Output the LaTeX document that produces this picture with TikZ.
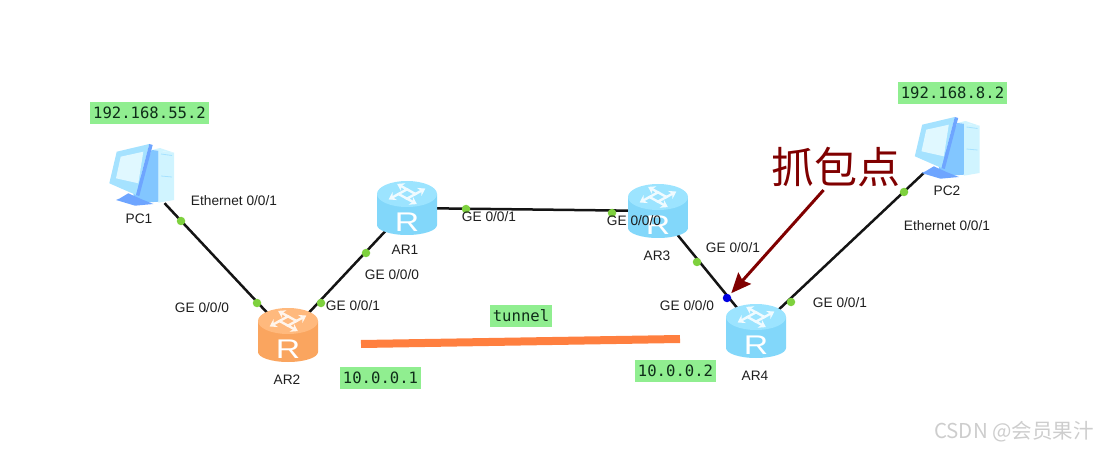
\documentclass[tikz,border=0pt]{standalone}
\usepackage[svgnames]{xcolor}
\usepackage{fontspec}
\setmainfont{Liberation Sans}
\newfontfamily\cjkfont{Noto Sans CJK SC}
\newfontfamily\addrfont{DejaVu Sans Mono}
\usetikzlibrary{arrows,arrows.meta}
\definecolor{portgreen}{RGB}{126,209,62}
\definecolor{sniffblue}{RGB}{0,0,225}
\definecolor{linkblack}{RGB}{20,20,20}
\definecolor{tunnelorange}{RGB}{255,127,63}
\definecolor{snifferred}{RGB}{128,0,0}
\definecolor{textgrey}{RGB}{30,30,30}
\definecolor{addrtext}{RGB}{15,45,25}
\definecolor{markgrey}{RGB}{205,205,205}
\definecolor{blueedge}{RGB}{130,215,250}
\definecolor{bluemid}{RGB}{168,236,255}
\definecolor{bluetop}{RGB}{156,228,255}
\definecolor{orangeedge}{RGB}{250,165,95}
\definecolor{orangemid}{RGB}{255,195,145}
\definecolor{orangetop}{RGB}{255,185,125}
\definecolor{pcframe}{RGB}{165,226,255}
\definecolor{pcside}{RGB}{130,198,255}
\definecolor{pcfront}{RGB}{208,244,255}
\definecolor{pcscreen}{RGB}{224,248,255}
\definecolor{pcbase}{RGB}{110,165,255}
\tikzset{>={Stealth[scale=1.25]}}
\tikzset{
	routerbox/.style={circle, minimum size=60, inner sep=0},
	portdot/.style={circle, fill=portgreen, minimum size=8.5, inner sep=0},
	sniffdot/.style={portdot, fill=sniffblue},
	pcbox/.style={minimum width=60, inner sep=0},
	port/.style={font=\fontsize{13.7}{16}\selectfont, text=textgrey, inner sep=0},
	addr/.style={fill=LightGreen, font=\addrfont\fontsize{15.6}{18}\selectfont, text=addrtext,
		inner xsep=3, inner ysep=0, minimum height=22},
	link/.style={draw=linkblack, line width=2.5},
	routericon/.pic={
		\shade[left color=#1edge, middle color=#1mid, right color=#1edge]
			(-30,-14) -- (-30,17) arc[start angle=180, end angle=0, x radius=30, y radius=10] -- (30,-14) -- cycle;
		\fill[#1top] (0,-14) ellipse[x radius=30, y radius=13];
		\begin{scope}[yshift=14, yscale=0.55]
			\foreach \a in {45,135,225,315} {
				\begin{scope}[rotate=\a]
					\draw[white!85!#1top, line width=2.4, -{Stealth[length=7,width=9]}] (6,-7) -- (6,6) -- (20,6);
				\end{scope}
			}
		\end{scope}
		\node[white, xscale=1.25, inner sep=0, font=\fontsize{27}{27}\selectfont] at (0,14) {R};
	},
	pcicon/.pic={
		\fill[pcfront] (18.3,-25.3) -- (34,-23.3) -- (34,24) -- (18.3,26.7) -- cycle;
		\fill[pcfront] (11.7,-26) -- (20,-28) -- (34,-23.3) -- (18.3,-25.3) -- cycle;
		\fill[pcside] (11.7,-26) -- (18.3,-25.3) -- (18.3,25.7) -- (-3.3,27.3) -- (-6.7,19) -- cycle;
		\draw[pcframe, line width=0.8] (21,-22) -- (32,-20.5) (21,0) -- (32,1);
		\fill[pcbase] (-20,22.3) -- (-11.7,17.3) -- (1.7,23.3) -- (13.3,28) -- (-5,29.7) -- (-24,24) -- cycle;
		\fill[pcframe] (-30.7,7.3) -- (-23.3,-24.3) -- (9.3,-32) -- (-4,19) -- cycle;
		\fill[pcbase] (9.3,-32) -- (12.7,-31) -- (-0.7,20) -- (-4,19) -- cycle;
		\fill[pcscreen] (-24,2.3) -- (-19.3,-19.3) -- (3.3,-24.3) -- (-1.7,7.3) -- cycle;
	}
}

\begin{document}
\begin{tikzpicture}[x=1pt, y=-1pt]

	\useasboundingbox (0,0) rectangle (1098,449);

	\node[pcbox, minimum height=52] (pc1) at (140,177) {};
	\node[pcbox, minimum height=40] (pc2) at (945,153) {};
	\node[routerbox] (ar2) at (288,335) {};
	\node[routerbox] (ar1) at (407,208) {};
	\node[routerbox] (ar3) at (658,211) {};
	\node[routerbox] (ar4) at (756,331) {};

	\draw[link] (pc1) -- (ar2);
	\draw[link] (ar2) -- (ar1);
	\draw[link] (ar1) -- (ar3);
	\draw[link] (ar3) -- (ar4);
	\draw[link] (ar4) -- (pc2);

	\pic at (140,176) {pcicon};
	\pic at (945.5,149) {pcicon};
	\pic at (ar1) {routericon=blue};
	\pic at (ar2) {routericon=orange};
	\pic at (ar3) {routericon=blue};
	\pic at (ar4) {routericon=blue};

	% ports
	\node[portdot] (p1) at (181,221) {};
	\node[portdot] (p2) at (257,303) {};
	\node[portdot] (p3) at (321,303) {};
	\node[portdot] (p4) at (366,253) {};
	\node[portdot] (p5) at (466,209) {};
	\node[portdot] (p6) at (612,213) {};
	\node[portdot] (p7) at (697,262) {};
	\node[sniffdot] (p8) at (727,298) {};
	\node[portdot] (p9) at (791,302) {};
	\node[portdot] (p10) at (904,192) {};

	\node[port] (n1) at (139,219) {PC1};
	\node[port] (n2) at (287,380) {AR2};
	\node[port] (n3) at (405,250) {AR1};
	\node[port] (n4) at (657,256) {AR3};
	\node[port] (n5) at (755,376) {AR4};
	\node[port] (n6) at (947,191) {PC2};

	\node[port] (l1) at (234,201) {Ethernet 0/0/1};
	\node[port] (l2) at (947,226) {Ethernet 0/0/1};
	\node[port] (l3) at (202,308) {GE 0/0/0};
	\node[port] (l4) at (353,306) {GE 0/0/1};
	\node[port] (l5) at (392,275) {GE 0/0/0};
	\node[port] (l6) at (489,217) {GE 0/0/1};
	\node[port] (l7) at (634,221) {GE 0/0/0};
	\node[port] (l8) at (733,248) {GE 0/0/1};
	\node[port] (l9) at (687,306) {GE 0/0/0};
	\node[port] (l10) at (840,303) {GE 0/0/1};

	\node[addr] (a1) at (149.5,113) {192.168.55.2};
	\node[addr] (a2) at (952.5,93) {192.168.8.2};
	\node[addr] (a3) at (521,316) {tunnel};
	\node[addr] (a4) at (380.5,378) {10.0.0.1};
	\node[addr] (a5) at (675.5,371) {10.0.0.2};

	\coordinate (tl) at (361,344);
	\coordinate (tr) at (680,339);
	\draw[tunnelorange, line width=8] (tl) -- (tr);

	\node[snifferred, font=\cjkfont\fontsize{43}{43}\selectfont, inner sep=0] (sniff) at (836,167) {抓包点};
	\draw[-{Stealth[length=20,width=17,inset=3]}, snifferred, line width=3, shorten >=2, shorten <=4] (sniff.244) -- (p8);

	\node[markgrey, font=\cjkfont\fontsize{20.5}{20.5}\selectfont, inner sep=0] (wm) at (1014,432) {CSDN @会员果汁};
\end{tikzpicture}
\end{document}
